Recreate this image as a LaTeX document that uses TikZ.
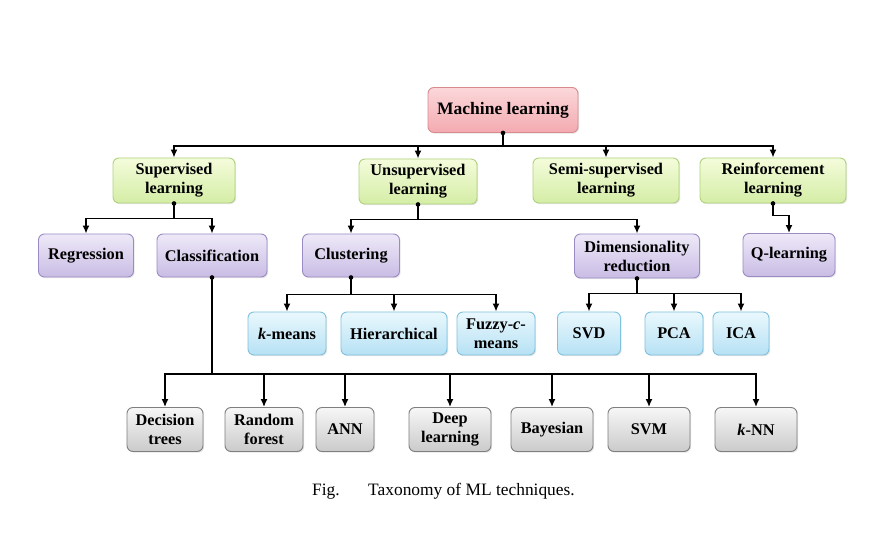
\documentclass[tikz,border=0pt]{standalone}
\usepackage{fontspec}
\setmainfont{Liberation Serif}
\usetikzlibrary{arrows.meta,shadows,calc}
\definecolor{pinkT}{HTML}{FBD8DA}\definecolor{pinkB}{HTML}{F3ABB0}\definecolor{pinkD}{HTML}{D98A8E}
\definecolor{grnT}{HTML}{F4FCDB}\definecolor{grnB}{HTML}{D4EDA6}\definecolor{grnD}{HTML}{B0D27C}
\definecolor{purT}{HTML}{EEE9F8}\definecolor{purB}{HTML}{C9BCE4}\definecolor{purD}{HTML}{9B8BC3}
\definecolor{bluT}{HTML}{EAF8FD}\definecolor{bluB}{HTML}{B6E1F4}\definecolor{bluD}{HTML}{80C2DE}
\definecolor{gryT}{HTML}{F6F6F6}\definecolor{gryB}{HTML}{CBCBCB}\definecolor{gryD}{HTML}{7F7F7F}
\tikzset{
  box/.style={rounded corners=6pt, line width=0.9pt, align=center, inner sep=0pt,
    font=\fontsize{16.3}{19}\selectfont\bfseries, text=black,
    drop shadow={opacity=0.2, shadow xshift=1.2pt, shadow yshift=-1.2pt}},
  pinkbox/.style={box, draw=pinkD, top color=pinkT, bottom color=pinkB},
  grnbox/.style={box, draw=grnD, top color=grnT, bottom color=grnB},
  purbox/.style={box, draw=purD, top color=purT, bottom color=purB},
  blubox/.style={box, draw=bluD, top color=bluT, bottom color=bluB},
  grybox/.style={box, draw=gryD, top color=gryT, bottom color=gryB},
  conn/.style={line width=1.5pt, draw=black, -{Latex[length=8pt,width=7pt]}},
  dotc/.style={fill=black},
}
\begin{document}
\begin{tikzpicture}[x=1pt,y=-1pt]
\useasboundingbox (0,0) rectangle (895,537);
\fill[white] (0,0) rectangle (895,537);
% level 0
\node[pinkbox, minimum width=150pt, minimum height=45pt, font=\fontsize{17.5}{20}\selectfont\bfseries] (ml) at (503,110) {Machine learning};
% level 1
\node[grnbox, minimum width=122pt, minimum height=45pt] (sup) at (174,180.5) {Supervised\\learning};
\node[grnbox, minimum width=118pt, minimum height=45pt] (uns) at (418,181.5) {Unsupervised\\learning};
\node[grnbox, minimum width=146pt, minimum height=45pt] (semi) at (606,180.5) {Semi-supervised\\learning};
\node[grnbox, minimum width=146pt, minimum height=45pt] (rl) at (773,180.5) {Reinforcement\\learning};
% level 2
\node[purbox, minimum width=95pt, minimum height=43pt] (reg) at (86,255.5) {Regression};
\node[purbox, minimum width=110pt, minimum height=43pt] (cls) at (212,255.5) {Classification};
\node[purbox, minimum width=97pt, minimum height=43pt] (clu) at (351,255.5) {Clustering};
\node[purbox, minimum width=125pt, minimum height=44pt] (dim) at (637,256) {Dimensionality\\reduction};
\node[purbox, minimum width=92pt, minimum height=43pt] (ql) at (789,255) {Q-learning};
% level 3
\node[blubox, minimum width=78pt, minimum height=43pt] (km) at (287,333.5) {\textit{k}-means};
\node[blubox, minimum width=106pt, minimum height=43pt] (hi) at (394,333.5) {Hierarchical};
\node[blubox, minimum width=78pt, minimum height=43pt] (fz) at (496,333.5) {Fuzzy-\textit{c}-\\means};
\node[blubox, minimum width=63pt, minimum height=43pt] (svd) at (589,333.5) {SVD};
\node[blubox, minimum width=58pt, minimum height=43pt] (pca) at (674,333.5) {PCA};
\node[blubox, minimum width=56pt, minimum height=43pt] (ica) at (741,333.5) {ICA};
% level 4
\node[grybox, minimum width=76pt, minimum height=44pt] (dt) at (165,429.5) {Decision\\trees};
\node[grybox, minimum width=78pt, minimum height=44pt] (rf) at (264,429.5) {Random\\forest};
\node[grybox, minimum width=58pt, minimum height=44pt] (ann) at (345,429.5) {ANN};
\node[grybox, minimum width=82pt, minimum height=44pt] (dl) at (450,429.5) {Deep\\learning};
\node[grybox, minimum width=82pt, minimum height=44pt] (bay) at (552,429.5) {Bayesian};
\node[grybox, minimum width=82pt, minimum height=44pt] (svm) at (649,429.5) {SVM};
\node[grybox, minimum width=82pt, minimum height=44pt] (knn) at (756,429.5) {\textit{k}-NN};
% connectors level 0 -> 1
\foreach \c in {sup,uns,semi,rl}{\draw[conn] (ml.south) -- ++(0,13) -| (\c.north);}
% supervised
\foreach \c in {reg,cls}{\draw[conn] (sup.south) -- ++(0,15) -| (\c.north);}
% unsupervised
\foreach \c in {clu,dim}{\draw[conn] (uns.south) -- ++(0,15) -| (\c.north);}
% reinforcement
\draw[conn] (rl.south) -- ++(0,12) -| (ql.north);
% clustering
\foreach \c in {km,hi,fz}{\draw[conn] (clu.south) -- ++(0,17) -| (\c.north);}
% dim red
\foreach \c in {svd,pca,ica}{\draw[conn] (dim.south) -- ++(0,15) -| (\c.north);}
% classification
\coordinate (cbus) at (212,374);
\foreach \c in {dt,rf,ann,dl,bay,svm,knn}{\draw[conn] (cls.south) -- (cbus) -| (\c.north);}
\draw[line width=2.4pt] (dt.north |- cbus) -- (knn.north |- cbus);
% dots
\foreach \c in {ml,sup,uns,rl,clu,dim,cls}{\fill[dotc] (\c.south) circle (2.3pt);}
% caption
\node[anchor=base west, font=\fontsize{17.4}{20}\selectfont, inner sep=0pt] (fig) at (312,496) {Fig.};
\node[anchor=base west, font=\fontsize{17.4}{20}\selectfont, inner sep=0pt] (cap) at (368,496) {Taxonomy of ML techniques.};
\end{tikzpicture}
\end{document}
